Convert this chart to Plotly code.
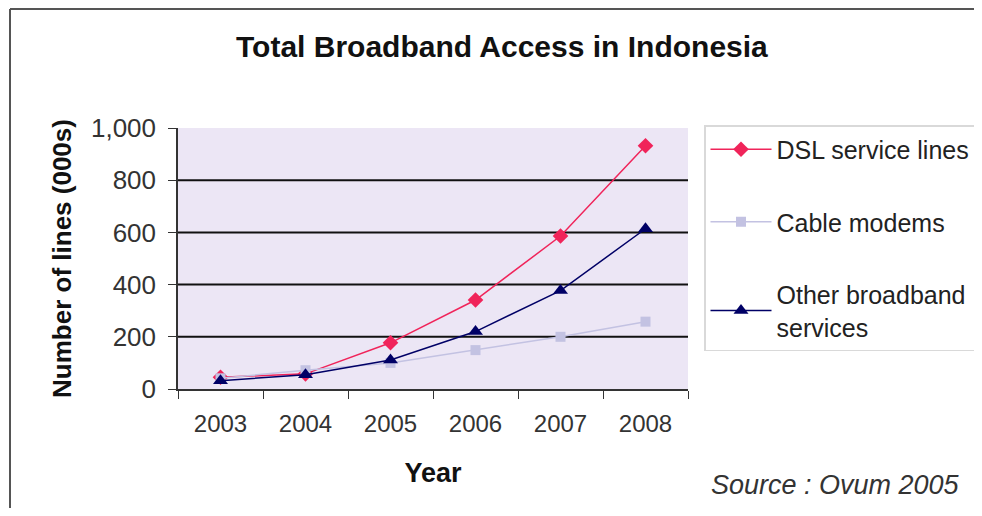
import plotly.graph_objects as go

years = ["2003", "2004", "2005", "2006", "2007", "2008"]
dsl = [45, 58, 177, 341, 586, 932]
cable = [41, 72, 100, 149, 200, 258]
other = [32, 55, 111, 220, 377, 614]
y_ticks = [0, 200, 400, 600, 800, 1000]
grid_vals = [200, 400, 600, 800]

OFF = 8  # page body margin in the browser
W, H = 982 - 2 * OFF, 516 - 2 * OFF  # keep the page free of scrollbars
L, R, T, B = 178 - OFF, 688 - OFF, 128 - OFF, 389 - OFF
FONT = "Liberation Sans, Arial, sans-serif"

def px_x(px):
    return (px - OFF - L) / (R - L)

def px_y(py):
    return (B - (py - OFF)) / (B - T)

fig = go.Figure()
fig.add_trace(go.Scatter(x=years, y=dsl, name="DSL service lines", mode="lines+markers",
                         line=dict(color="#F0245A", width=1.5),
                         marker=dict(symbol="diamond", size=12, color="#F0245A"),
                         legendgroup="a"))
fig.add_trace(go.Scatter(x=years, y=cable, name="Cable modems", mode="lines+markers",
                         line=dict(color="#C3C2E2", width=1.5),
                         marker=dict(symbol="square", size=10, color="#C3C2E2"),
                         legendgroup="b"))
fig.add_trace(go.Scatter(x=years, y=other, name="Other broadband<br>services", mode="lines+markers",
                         line=dict(color="#000066", width=1.5),
                         marker=dict(symbol="triangle-up", size=13, color="#000066"),
                         legendgroup="c"))

shapes = []
for g in grid_vals:
    shapes.append(dict(type="line", xref="paper", yref="y", x0=0, x1=1, y0=g, y1=g,
                       line=dict(color="#111111", width=2), layer="below"))
# image frame (left and top edges)
shapes.append(dict(type="line", xref="paper", yref="paper", x0=px_x(10), x1=px_x(10),
                   y0=px_y(9), y1=px_y(530), line=dict(color="#555555", width=2)))
shapes.append(dict(type="line", xref="paper", yref="paper", x0=px_x(10), x1=px_x(1000),
                   y0=px_y(9), y1=px_y(9), line=dict(color="#555555", width=2)))

fig.update_layout(
    width=W, height=H,
    margin=dict(l=L, r=W - R, t=T, b=H - B, autoexpand=False),
    paper_bgcolor="white",
    plot_bgcolor="#ECE6F5",
    font=dict(family=FONT, size=24, color="#333333"),
    showlegend=True,
    legend=dict(x=px_x(704), y=px_y(125), xanchor="left", yanchor="top",
                bgcolor="white", bordercolor="#D9D9D9", borderwidth=1.5,
                font=dict(size=25, color="#222222"), itemwidth=61,
                tracegroupgap=37, traceorder="grouped"),
    shapes=shapes,
    annotations=[
        dict(text="<b>Total Broadband Access in Indonesia</b>", xref="paper", yref="paper",
             x=px_x(502), y=px_y(46), xanchor="center", yanchor="middle", showarrow=False,
             font=dict(size=30, color="#111111")),
        dict(text="<i>Source : Ovum 2005</i>", xref="paper", yref="paper",
             x=px_x(962), y=px_y(485), xanchor="right", yanchor="middle", showarrow=False,
             font=dict(size=27, color="#333333")),
    ],
)
fig.update_xaxes(type="category", range=[-0.5, 5.5], showgrid=False,
                 showline=True, linecolor="#333333", linewidth=1.5,
                 ticks="outside", tickson="boundaries", ticklen=8, tickcolor="#333333",
                 ticklabelstandoff=12, automargin=False,
                 tickfont=dict(size=24, color="#333333"),
                 title=dict(text="<b>Year</b>", font=dict(size=27, color="#111111"), standoff=28))
fig.update_yaxes(range=[0, 1000], tickvals=y_ticks, tickformat=",", showgrid=False,
                 showline=True, linecolor="#333333", linewidth=1.5, zeroline=False,
                 ticks="outside", ticklen=8, tickcolor="#333333",
                 ticklabelstandoff=7, automargin=False,
                 tickfont=dict(size=26, color="#333333"),
                 title=dict(text="<b>Number of lines (000s)</b>", font=dict(size=26, color="#111111"),
                            standoff=12))

fig.write_html("out.html")
